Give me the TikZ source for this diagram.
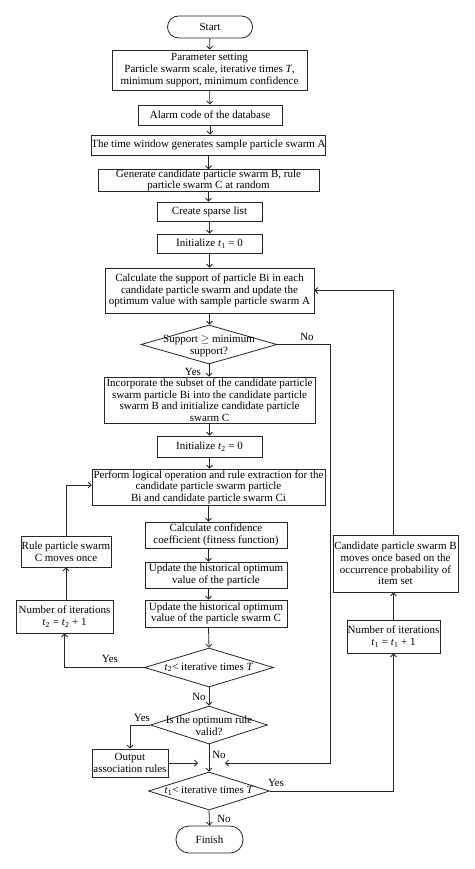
\documentclass[tikz,border=0pt]{standalone}
\usepackage{fontspec}
\setmainfont{Liberation Serif}
\usetikzlibrary{arrows.meta,shapes.geometric}
\tikzset{
  lin/.style={draw=black!85, line width=0.8pt},
  arr/.style={lin, -{Straight Barb[length=3pt,width=6pt]}},
  box/.style={lin, rectangle, inner sep=0pt, align=center, font=\fontsize{11}{11.6}\selectfont},
  term/.style={box, rounded corners=11pt},
  dia/.style={lin, diamond, inner sep=0pt},
  dtext/.style={inner sep=0pt, align=center, font=\fontsize{11}{11.6}\selectfont},
  lbl/.style={inner sep=0pt, font=\fontsize{11}{11.6}\selectfont},
}
\newcommand{\ti}[1]{\textit{t}\textsubscript{#1}}
\begin{document}
\begin{tikzpicture}[x=1pt,y=-1pt]
\useasboundingbox[fill=white] (0,0) rectangle (474,869);
% main column
\node[term, minimum width=85, minimum height=22] (start) at (210,27) {Start};
\node[box, minimum width=195, minimum height=40] (param) at (209.5,70) {Parameter setting\\ Particle swarm scale, iterative times \textit{T},\\ minimum support, minimum confidence};
\node[box, minimum width=144, minimum height=20] (alarm) at (210,115) {Alarm code of the database};
\node[box, minimum width=233, minimum height=20] (timew) at (208.5,145) {The time window generates sample particle swarm A};
\node[box, minimum width=221, minimum height=21] (gen) at (208.5,180.5) {Generate candidate particle swarm B, rule\\ particle swarm C at random};
\node[box, minimum width=105, minimum height=19] (sparse) at (209.5,211.5) {Create sparse list};
\node[box, minimum width=105, minimum height=19] (init1) at (209.5,243.5) {Initialize \ti{1} = 0};
\node[box, minimum width=209, minimum height=45] (calc) at (209.5,290.5) {Calculate the support of particle Bi in each\\ candidate particle swarm and update the\\ optimum value with sample particle swarm A};
\node[dia, minimum width=136, minimum height=39] (ds) at (209,344.5) {};
\node[dtext] (dst) at (209,346) {Support $\geq$ minimum\\ support?};
\node[box, minimum width=211, minimum height=46] (incorp) at (209.5,400) {Incorporate the subset of the candidate particle\\ swarm particle Bi into the candidate particle\\ swarm B and initialize candidate particle\\ swarm C};
\node[box, minimum width=105, minimum height=21] (init2) at (209.5,446.5) {Initialize \ti{2} = 0};
\node[box, minimum width=233, minimum height=36] (perform) at (208.5,487) {Perform logical operation and rule extraction for the\\ candidate particle swarm particle\\ Bi and candidate particle swarm Ci};
\node[box, minimum width=142, minimum height=26] (conf) at (216,535) {Calculate confidence\\ coefficient (fitness function)};
\node[box, minimum width=142, minimum height=26] (upd1) at (216,575) {Update the historical optimum\\ value of the particle};
\node[box, minimum width=142, minimum height=27] (upd2) at (216,613.5) {Update the historical optimum\\ value of the particle swarm C};
\node[box, minimum width=90, minimum height=31] (rule) at (66,551.5) {Rule particle swarm\\ C moves once};
\node[box, minimum width=97, minimum height=33] (num2) at (64.5,616.5) {Number of iterations\\ \ti{2} = \ti{2} + 1};
\node[dia, minimum width=129, minimum height=39] (d2) at (209,667.5) {};
\node[dtext] (d2t) at (209,667.5) {\ti{2}< iterative times \textit{T}};
\node[dia, minimum width=117, minimum height=38] (dopt) at (209,725) {};
\node[dtext] (doptt) at (209,726) {Is the optimum rule\\ valid?};
\node[box, minimum width=76, minimum height=28] (output) at (130,763) {Output\\ association rules};
\node[dia, minimum width=121, minimum height=38] (d1) at (209,791) {};
\node[dtext] (d1t) at (209,791) {\ti{1}< iterative times \textit{T}};
\node[term, minimum width=67, minimum height=27, rounded corners=13pt] (finish) at (209.5,839.5) {Finish};
\node[box, minimum width=125, minimum height=57] (cand) at (395.5,563.5) {Candidate particle swarm B\\ moves once based on the\\ occurrence probability of\\ item set};
\node[box, minimum width=93, minimum height=33] (num1) at (393.5,636.5) {Number of iterations\\ \ti{1} = \ti{1} + 1};
% free ends
\coordinate (j1) at (198,763);
\coordinate (j2) at (225,763);
% connectors
\draw[arr] (start) -- (param);
\draw[arr] (param) -- (alarm);
\draw[arr] (alarm.south) -- (alarm.south |- timew.north);
\draw[arr] (timew) -- (gen);
\draw[arr] (gen.south) -- (gen.south |- sparse.north);
\draw[arr] (sparse) -- (init1);
\draw[arr] (init1) -- (calc);
\draw[arr] (calc.south) -- (calc.south |- ds.north);
\draw[arr] (ds.south) -- (ds.south |- incorp.north);
\draw[arr] (incorp) -- (init2);
\draw[arr] (init2.south) -- (init2.south |- perform.north);
\draw[arr] (perform.south) -- (perform.south |- conf.north);
\draw[arr] (perform.south |- conf.south) -- (perform.south |- upd1.north);
\draw[arr] (perform.south |- upd1.south) -- (perform.south |- upd2.north);
\draw[arr] (perform.south |- upd2.south) -- (d2.north);
\draw[arr] (d2.west) -| (num2.south);
\draw[arr] (num2.north -| rule.south) -- (rule.south);
\draw[arr] (rule.north) |- ([yshift=2pt]perform.west);
\draw[arr] (d2.south) -- (dopt.north);
\draw[arr] (dopt.west) -| (output.north);
\draw[arr] (output.east) -- (j1);
\draw[arr] (dopt.south) -- (d1.north);
\draw[arr] (ds.east) -| (330,763) -- (j2);
\draw[arr] (d1.east) -| (num1.south);
\draw[arr] (num1.north) -- (num1.north |- cand.south);
\draw[arr] (num1.north |- cand.north) |- (calc.east);
\draw[arr] (d1.south) -- (finish.north);
% labels
\node[lbl] (l1) at (307,337) {No};
\node[lbl] (l2) at (193,372) {Yes};
\node[lbl] (l3) at (110,659) {Yes};
\node[lbl] (l4) at (199,697) {No};
\node[lbl] (l5) at (142,718) {Yes};
\node[lbl] (l6) at (219,755) {No};
\node[lbl] (l7) at (276,783) {Yes};
\node[lbl] (l8) at (224,819) {No};
\end{tikzpicture}
\end{document}
